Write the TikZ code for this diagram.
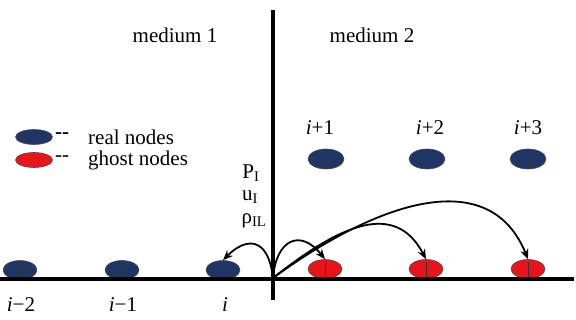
\documentclass[tikz,border=0pt]{standalone}
\usepackage{fontspec}
\setmainfont{Liberation Serif}
\usetikzlibrary{shapes.geometric,arrows.meta}
\definecolor{navy}{HTML}{1F3566}
\definecolor{ghostred}{HTML}{E8141C}
\begin{document}
\begin{tikzpicture}[x=1pt,y=-1pt,
  realnode/.style={ellipse,draw=black!70,line width=0.6pt,fill=navy,minimum width=34pt,minimum height=19pt,inner sep=0pt},
  ghostnode/.style={ellipse,draw=black!70,line width=0.6pt,fill=ghostred,minimum width=34pt,minimum height=19pt,inner sep=0pt},
  axis/.style={line width=3.4pt},
  tick/.style={line width=0.8pt,black!80},
  arc/.style={line width=1.8pt,-{Stealth[length=10pt,width=8pt]}},
  lbl/.style={font=\fontsize{21}{24}\selectfont,inner sep=0pt}]
\useasboundingbox (0,0) rectangle (576,320);
% nodes bottom
\node[realnode] (n2) at (20,270) {};
\node[realnode] (n1) at (122,270) {};
\node[realnode] (n0) at (223,270) {};
\node[ghostnode] (g1) at (325,269) {};
\node[ghostnode] (g2) at (426,269) {};
\node[ghostnode] (g3) at (528,269) {};
% top real nodes
\node[realnode,minimum width=36pt,minimum height=20pt] (r1) at (326,159) {};
\node[realnode,minimum width=36pt,minimum height=20pt] (r2) at (427,159) {};
\node[realnode,minimum width=36pt,minimum height=20pt] (r3) at (528,159) {};
% ticks
\foreach \n in {n2,n1,n0,g1,g2,g3} \draw[tick] (\n.north) ++(0,3) -- (\n.south);
\foreach \n in {r1,r2,r3} \draw[tick] (\n.center) -- (\n.south);
% axes
\coordinate (o) at (273,278);
\coordinate (top) at (273,10);
\coordinate (bot) at (273,300);
\coordinate (left) at (0,279);
\coordinate (right) at (574,279);
\draw[axis] (top) -- (bot);
\draw[axis] (left) -- (right);
% labels
\node[lbl] (m1) at (175,35) {medium 1};
\node[lbl] (m2) at (372,35) {medium 2};
\node[lbl] (l1) at (320,128) {\textit{i}+1};
\node[lbl] (l2) at (430,128) {\textit{i}+2};
\node[lbl] (l3) at (528,128) {\textit{i}+3};
\node[lbl] (b2) at (21,305) {\textit{i}−2};
\node[lbl] (b1) at (123,305) {\textit{i}−1};
\node[lbl] (b0) at (225,305) {\textit{i}};
\node[lbl] (pI) at (251,173) {P\textsubscript{I}};
\node[lbl] (uI) at (250,197) {u\textsubscript{I}};
\node[lbl] (rI) at (254,221) {ρ\textsubscript{IL}};
% legend
\node[realnode,minimum width=37pt,minimum height=15pt] (lr) at (34,137) {};
\node[ghostnode,minimum width=37pt,minimum height=15pt] (lg) at (34,160) {};
\node[lbl,anchor=west] (dr) at (55,136) {\textbf{-{}-}};
\node[lbl,anchor=west] (dg) at (55,159) {-{}-};
\node[lbl,anchor=west] (tr) at (88,137) {real nodes};
\node[lbl,anchor=west] (tg) at (88,160) {ghost nodes};
% arrows
\draw[arc] (o) .. controls (268,235) and (245,238) .. (n0.north);
\draw[arc] (o) .. controls (276,240) and (300,228) .. (g1.north);
\draw[arc] (o) .. controls (340,225) and (395,200) .. (g2.north);
\draw[arc] (o) .. controls (380,200) and (490,165) .. (g3.north);
\end{tikzpicture}
\end{document}
